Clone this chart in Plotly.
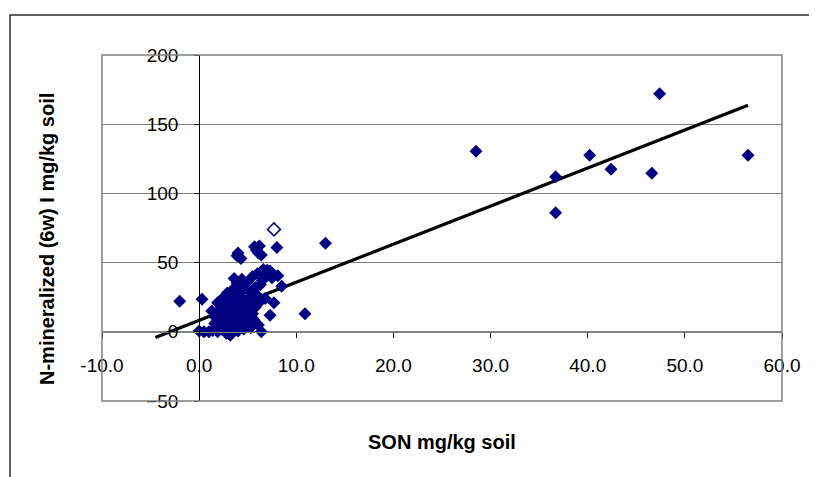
import plotly.graph_objects as go

# ---- data ----
son_filled = [
    28.5, 36.7, 36.7, 40.2, 42.4, 46.6, 47.4, 56.5,
    13.0, 10.9, -2.0, 0.3, 8.0,
    4.0, 4.3, 3.9, 5.7, 6.1, 6.4, 5.9, 6.2,
    7.3, 8.1, 8.5, 7.7, 7.3, 6.4, 7.0, 6.6, 6.9, 7.5,
    0.0, 0.5, 1.0, 1.4, 1.9, 2.3, 2.8, 3.2, 3.6, 4.0, 4.6, 5.3,
    1.6, 2.2, 2.7, 3.1, 3.5, 4.0, 4.5, 5.0, 5.6, 6.1,
    1.3, 1.8, 2.3, 2.8, 3.3, 3.8, 4.3, 4.8, 5.3, 5.8,
    1.9, 2.4, 2.9, 3.4, 3.9, 4.5, 5.0, 5.6, 6.0,
    2.9, 3.4, 4.0, 4.6, 5.2, 5.8, 6.3,
    3.9, 4.4, 5.0, 5.5, 6.0, 3.6,
    2.0, 2.5, 3.0, 3.6, 4.2, 4.7, 5.2,
    1.6, 2.1, 2.6, 3.1, 3.7, 4.2, 4.9, 5.5,
    2.6, 3.2, 3.7, 4.2, 4.8, 5.4, 6.3, 6.8,
    4.6, 5.3, 6.5,
]
nmin_filled = [
    130.5, 112.0, 86.0, 127.5, 117.5, 114.5, 172.0, 127.5,
    64.0, 13.0, 22.0, 23.5, 61.0,
    57.0, 53.0, 55.0, 61.5, 57.0, 55.5, 59.0, 62.0,
    44.0, 40.5, 33.0, 21.0, 12.0, 0.0, 44.5, 45.0, 41.0, 39.0,
    0.5, 0.0, 0.0, 1.0, 0.0, 2.0, -1.0, -2.5, 1.5, 0.5, 2.0, 3.0,
    6.0, 8.0, 5.0, 9.0, 7.0, 10.0, 6.0, 8.0, 9.0, 5.0,
    15.0, 14.0, 16.5, 13.0, 15.0, 17.5, 12.5, 14.0, 16.0, 18.0,
    21.0, 24.0, 20.0, 22.5, 19.5, 23.0, 21.0, 24.5, 26.0,
    28.0, 30.0, 27.5, 31.0, 29.0, 32.0, 34.0,
    35.0, 38.0, 36.0, 40.0, 42.0, 38.5,
    3.5, 4.0, 3.0, 4.5, 3.5, 5.0, 11.0,
    11.0, 11.5, 12.0, 10.5, 12.0, 11.0, 11.0, 13.0,
    19.0, 17.5, 21.0, 26.0, 18.0, 20.0, 22.0, 24.0,
    31.0, 25.5, 37.0,
]
son_open = [7.7]
nmin_open = [74.0]

trend_x = [-4.5, 56.5]
trend_y = [-4.1, 163.7]

x_ticks = [-10, 0, 10, 20, 30, 40, 50, 60]
y_ticks = [-50, 0, 50, 100, 150, 200]
x_title = "SON mg/kg soil"
y_title = "N-mineralized (6w) I mg/kg soil"

NAVY = "#000080"
GRID = "#808080"
FONT = "Liberation Sans, Arial, sans-serif"

fig = go.Figure()
fig.add_trace(go.Scatter(
    x=trend_x, y=trend_y, mode="lines",
    line=dict(color="black", width=3.2), hoverinfo="skip", showlegend=False))
fig.add_trace(go.Scatter(
    x=son_filled, y=nmin_filled, mode="markers",
    marker=dict(symbol="diamond", size=10, color=NAVY, line=dict(width=0)),
    showlegend=False))
fig.add_trace(go.Scatter(
    x=son_open, y=nmin_open, mode="markers",
    marker=dict(symbol="diamond", size=10, color="white",
                line=dict(width=1.5, color=NAVY)),
    showlegend=False))

x_pos = (0 - x_ticks[0]) / (x_ticks[-1] - x_ticks[0])
y_pos = (0 - y_ticks[0]) / (y_ticks[-1] - y_ticks[0])

fig.update_layout(
    width=809, height=469, autosize=False,
    margin=dict(l=94, r=35, t=47, b=76),
    paper_bgcolor="white", plot_bgcolor="white",
    font=dict(family=FONT, size=19, color="black"),
    xaxis=dict(
        range=[x_ticks[0], x_ticks[-1]], tickvals=x_ticks,
        ticktext=[f"{v:.1f}" for v in x_ticks],
        anchor="free", position=y_pos, showgrid=False, zeroline=False,
        showline=True, linecolor=GRID, linewidth=1,
        ticks="outside", ticklen=5, tickcolor="black", tickwidth=1,
        ticklabelstandoff=11, tickfont=dict(size=19),
    ),
    yaxis=dict(
        range=[y_ticks[0], y_ticks[-1]], tickvals=y_ticks,
        anchor="free", position=x_pos, showgrid=True, gridcolor=GRID,
        gridwidth=1, zeroline=False,
        showline=True, linecolor="black", linewidth=1,
        ticks="outside", ticklen=5, tickcolor="black", tickwidth=1,
        ticklabelstandoff=12, tickfont=dict(size=19),
    ),
    shapes=[
        dict(type="rect", xref="paper", yref="paper", x0=0, x1=1, y0=0, y1=1,
             line=dict(color=GRID, width=1.5), layer="above"),
        dict(type="rect", xref="paper", yref="paper",
             x0=-0.1353, x1=1.1, y0=-0.3, y1=1.1156,
             line=dict(color="#303030", width=1.5), layer="below"),
    ],
    annotations=[
        dict(text=f"<b>{x_title}</b>", xref="paper", yref="paper",
             x=0.5, y=-0.1185, showarrow=False, font=dict(size=20),
             xanchor="center", yanchor="middle"),
        dict(text=f"<b>{y_title}</b>", xref="paper", yref="paper",
             x=-0.081, y=0.468, showarrow=False, font=dict(size=20),
             textangle=-90, xanchor="center", yanchor="middle"),
    ],
)

fig.write_html("out.html")
